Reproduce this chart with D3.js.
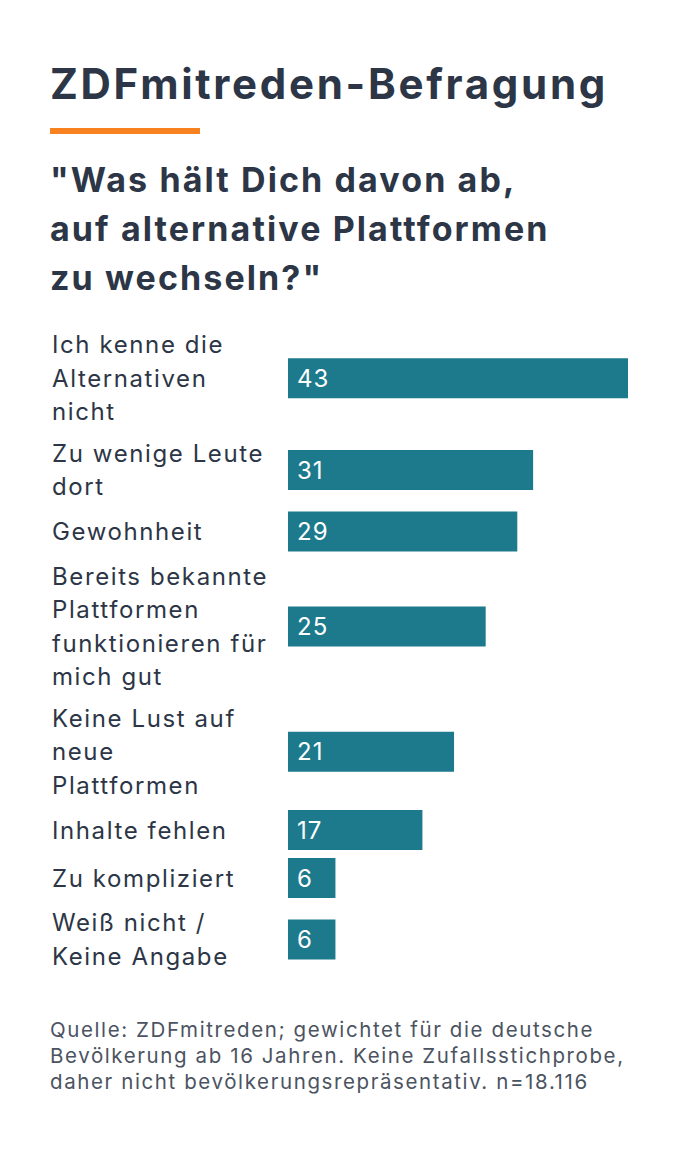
<!DOCTYPE html>
<html>
<head>
<meta charset="utf-8">
<script src="https://cdn.jsdelivr.net/npm/d3@7"></script>
<style>
  html, body { margin: 0; padding: 0; background: #ffffff; }
  svg { display: block; }
</style>
</head>
<body>
<script>
// ---- Data ----
const title = "ZDFmitreden-Befragung";
const subtitleLines = ["\"Was hält Dich davon ab,", "auf alternative Plattformen", "zu wechseln?\""];
const categories = [
  ["Ich kenne die", "Alternativen", "nicht"],
  ["Zu wenige Leute", "dort"],
  ["Gewohnheit"],
  ["Bereits bekannte", "Plattformen", "funktionieren für", "mich gut"],
  ["Keine Lust auf", "neue", "Plattformen"],
  ["Inhalte fehlen"],
  ["Zu kompliziert"],
  ["Weiß nicht /", "Keine Angabe"]
];
const values = [43, 31, 29, 25, 21, 17, 6, 6];
const footerLines = [
  "Quelle: ZDFmitreden; gewichtet für die deutsche",
  "Bevölkerung ab 16 Jahren. Keine Zufallsstichprobe,",
  "daher nicht bevölkerungsrepräsentativ. n=18.116"
];

// ---- Layout ----
const W = 680, H = 1150;
const font = "Inter, 'Noto Sans', sans-serif";
const textColor = "#2c3646";
const barColor = "#1d7a8c";
const lineH = 33.5, barH = 40, rowGap = 8;
const chartTop = 328;

const svg = d3.select("body").append("svg").attr("width", W).attr("height", H);

svg.append("text").attr("x", 50).attr("y", 99)
  .attr("font-family", font).attr("font-weight", 700).attr("font-size", 42)
  .attr("letter-spacing", 2.7)
  .attr("fill", textColor).text(title);

svg.append("rect").attr("x", 50).attr("y", 128).attr("width", 150).attr("height", 6)
  .attr("fill", "#f7821f");

svg.append("g").selectAll("text").data(subtitleLines).join("text")
  .attr("x", 50).attr("y", (d, i) => 192 + i * 49)
  .attr("font-family", font).attr("font-weight", 700).attr("font-size", 34)
  .attr("letter-spacing", 2.1)
  .attr("fill", textColor).text(d => d);

// rows: compute heights and centers
const rowHeights = categories.map(c => Math.max(c.length * lineH, barH));
const centers = [];
let acc = chartTop;
rowHeights.forEach(h => { centers.push(acc + h / 2); acc += h + rowGap; });

const idx = d3.range(values.length);
const y = d3.scaleOrdinal().domain(idx).range(centers);
const x = d3.scaleLinear().domain([0, 43]).range([288, 628]);

const rows = svg.append("g").selectAll("g").data(idx).join("g");

rows.append("rect")
  .attr("x", x(0)).attr("y", i => y(i) - barH / 2)
  .attr("width", i => x(values[i]) - x(0)).attr("height", barH)
  .attr("fill", barColor);

rows.append("text")
  .attr("x", x(0) + 9).attr("y", i => y(i) + 8.5)
  .attr("font-family", font).attr("font-size", 24).attr("fill", "#ffffff")
  .attr("letter-spacing", 1)
  .text(i => values[i]);

rows.each(function(i) {
  const lines = categories[i];
  d3.select(this).selectAll("text.lab").data(lines).join("text").attr("class", "lab")
    .attr("x", 52)
    .attr("y", (d, j) => y(i) + (j - (lines.length - 1) / 2) * lineH + 8.5)
    .attr("font-family", font).attr("font-size", 24).attr("fill", textColor)
    .attr("letter-spacing", 1.6)
    .text(d => d);
});

svg.append("g").selectAll("text").data(footerLines).join("text")
  .attr("x", 50).attr("y", (d, i) => 1037 + i * 26)
  .attr("font-family", font).attr("font-size", 20.5).attr("fill", "#4b5361")
  .attr("letter-spacing", 1.6)
  .text(d => d);
</script>
</body>
</html>
